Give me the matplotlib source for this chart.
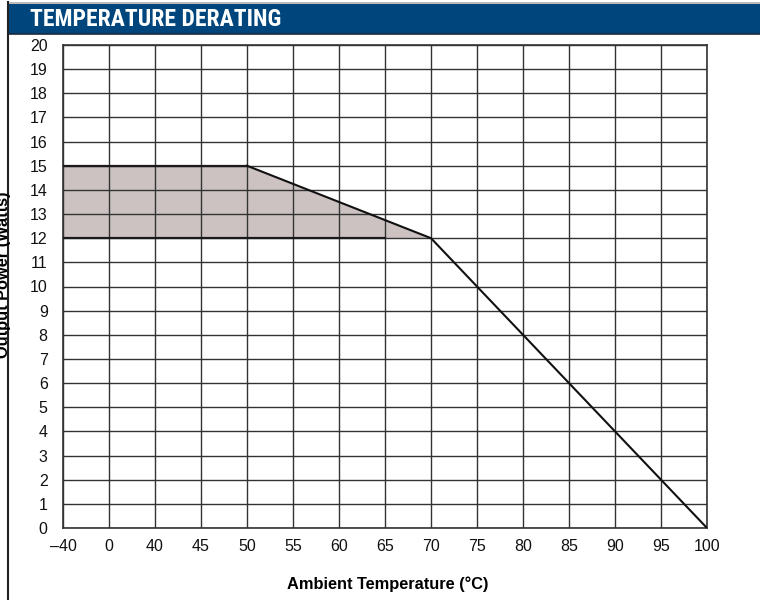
import matplotlib
matplotlib.use("Agg")
import logging
logging.getLogger("matplotlib.font_manager").setLevel(logging.ERROR)
import matplotlib.pyplot as plt
from matplotlib.patches import Rectangle
from matplotlib.lines import Line2D
from matplotlib import font_manager

# ---- data ----
temp_values = [-40, 0, 40, 45, 50, 55, 60, 65, 70, 75, 80, 85, 90, 95, 100]
temp_labels = ["\u201340", "0", "40", "45", "50", "55", "60", "65", "70", "75", "80", "85", "90", "95", "100"]
power_ticks = list(range(0, 21))

derate_temps = [50, 70, 100]
derate_power = [15, 12, 0]

region_temps = [-40, 50, 70]
region_upper = [15, 15, 12]
region_lower = [12, 12, 12]

region_base_temps = [-40, 65]
region_base_power = [12, 12]

title = "TEMPERATURE DERATING"
xlabel = "Ambient Temperature (\u00b0C)"
ylabel = "Output Power (Watts)"

# ---- fonts ----
names = {f.name for f in font_manager.fontManager.ttflist}
base_font = "Liberation Sans" if "Liberation Sans" in names else "DejaVu Sans"
title_font = base_font
for cand in ["Liberation Sans Narrow", "Roboto Condensed", "Archivo Narrow", "Barlow Condensed"]:
    if cand in names:
        title_font = cand
        break
plt.rcParams["font.family"] = [base_font, "DejaVu Sans"]

def pos(t):
    return temp_values.index(t)

fig = plt.figure(figsize=(7.6, 6.0), dpi=100)
W, H = 760, 600
ax = fig.add_axes([63 / W, 1 - 528 / H, (707 - 63) / W, (528 - 45) / H])

grid_c = "#333333"
# shaded region
xs = [pos(t) for t in region_temps]
ax.fill_between(xs, region_lower, region_upper, color="#cdc2c2", linewidth=0, zorder=1)

ax.set_xlim(0, len(temp_values) - 1)
ax.set_ylim(0, 20)
ax.set_xticks(range(len(temp_values)))
ax.set_xticklabels(temp_labels)
ax.set_yticks(power_ticks)
ax.grid(True, color=grid_c, linewidth=1.0, zorder=2)
ax.set_axisbelow(False)
for s in ax.spines.values():
    s.set_color(grid_c)
    s.set_linewidth(1.2)
ax.tick_params(length=0, labelsize=11.5, colors="#111111")
ax.tick_params(axis="y", pad=11)
ax.tick_params(axis="x", pad=8)

# outline lines
ax.plot([pos(region_temps[0]), pos(region_temps[1])], region_upper[:2], color="#1a1a1a", lw=1.6, zorder=4)
ax.plot([pos(t) for t in derate_temps], derate_power, color="#111111", lw=1.5, zorder=4)
ax.plot([pos(t) for t in region_base_temps], region_base_power, color="#1a1a1a", lw=1.6, zorder=4)

# axis labels
fig.text(388 / W, 1 - 584 / H, xlabel, ha="center", va="center", fontsize=11.8, fontweight="bold")
fig.text(4 / W, 1 - 275 / H, ylabel, ha="center", va="center", rotation=90, fontsize=11.8, fontweight="bold")

# header bar
fig.patches.append(Rectangle((8 / W, 1 - 4 / H), 1, 2 / H, transform=fig.transFigure,
                             facecolor="#bbbbbb", edgecolor="none", zorder=0))
fig.patches.append(Rectangle((8 / W, 1 - 34 / H), 1, 30 / H, transform=fig.transFigure,
                             facecolor="#00457b", edgecolor="none", zorder=0))
fig.add_artist(Line2D([8 / W, 1], [1 - 33.5 / H, 1 - 33.5 / H], color="#1c2a3a", lw=1.2))
fig.text(30 / W, 1 - 19.5 / H, title, ha="left", va="center", color="white",
         fontsize=17, fontweight="bold", family=[title_font, "DejaVu Sans"])

# left border
fig.add_artist(Line2D([8 / W, 8 / W], [0, 1 - 2 / H], color="#222222", lw=1.5))

fig.savefig("out.png", dpi=100)
